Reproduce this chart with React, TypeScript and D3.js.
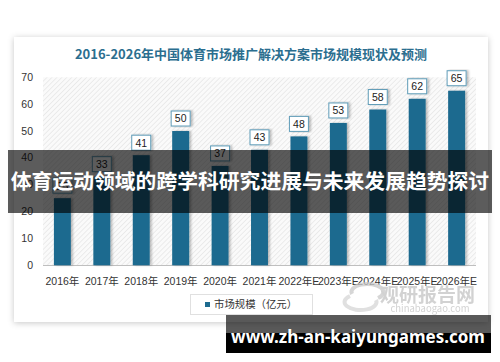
import React from "react";
import * as d3 from "d3";

const categories = ["2016年", "2017年", "2018年", "2019年", "2020年", "2021年", "2022年E", "2023年E", "2024年E", "2025年E", "2026年E"];
const values = [25, 33, 41, 50, 37, 43, 48, 53, 58, 62, 65];
const yTicks = [0, 10, 20, 30, 40, 50, 60, 70];
const title = "2016-2026年中国体育市场推广解决方案市场规模现状及预测";
const seriesName = "市场规模（亿元）";
const bannerText = "体育运动领域的跨学科研究进展与未来发展趋势探讨";
const urlText = "www.zh-an-kaiyungames.com";

const BLUE = "#1d6b8f";
const FONT = "'Noto Sans CJK SC', 'Noto Sans', sans-serif";
const NUMFONT = "'Liberation Sans', 'Noto Sans CJK SC', sans-serif";

export default function App() {
  const x = d3.scaleBand<string>().domain(categories).range([43, 476]).paddingInner(0.57).paddingOuter(0.277);
  const y = d3.scaleLinear().domain([0, 70]).range([265.3, 77.3]);
  const bw = x.bandwidth();
  return (
    <svg width={500} height={362} style={{ position: "absolute", left: 0, top: 0, display: "block", background: "#fff" }} fontFamily={FONT}>
      <defs>
        <filter id="cardShadow" x="-10%" y="-10%" width="120%" height="120%">
          <feDropShadow dx="0" dy="1" stdDeviation="3" floodColor="#000" floodOpacity="0.22" />
        </filter>
        <filter id="barShadow" x="-50%" y="-10%" width="200%" height="120%">
          <feDropShadow dx="2" dy="0" stdDeviation="1.2" floodColor="#000" floodOpacity="0.25" />
        </filter>
        <pattern id="hatch" width="3.5" height="3.5" patternUnits="userSpaceOnUse" patternTransform="rotate(45)">
          <rect width="3.5" height="3.5" fill="#fafafa" />
          <line x1="0" y1="0" x2="0" y2="3.5" stroke="#e4e4e4" strokeWidth="1.3" />
        </pattern>
      </defs>
      <rect x={14} y={37} width={474} height={285} fill="#fff" filter="url(#cardShadow)" />
      <text x={251} y={58.5} textAnchor="middle" fontSize={13} fontWeight="bold" fill="#2b6e8f">{title}</text>
      <rect x={43} y={77.3} width={433} height={188} fill="url(#hatch)" />
      <line x1={43} x2={476} y1={265.5} y2={265.5} stroke="#bfbfbf" strokeWidth={1} />
      {yTicks.map((t) => (
        <text key={t} x={33} y={y(t) + 3.5} textAnchor="end" fontSize={10.5} fill="#333" fontFamily={NUMFONT}>{t}</text>
      ))}
      {categories.map((c, i) => {
        const bx = x(c)!;
        const top = y(values[i]);
        const cx = bx + bw / 2;
        return (
          <g key={c}>
            <rect x={bx} y={top} width={bw} height={y(0) - top} fill={BLUE} filter="url(#barShadow)" />
            <rect x={cx - 9.5} y={top - 20} width={19} height={15} fill="#fff" stroke="#5f9cb8" strokeWidth={1} filter="url(#barShadow)" />
            <text x={cx} y={top - 8.6} textAnchor="middle" fontSize={10.5} fill="#222" fontFamily={NUMFONT}>{values[i]}</text>
            <text x={cx} y={285} textAnchor="middle" fontSize={10.5} fill="#333" fontFamily={NUMFONT}>{c}</text>
          </g>
        );
      })}
      <rect x={190.5} y={294.5} width={122} height={20} fill="#fff" stroke="#e0e0e0" />
      <rect x={205} y={302} width={5} height={5} fill={BLUE} />
      <text x={214} y={308} fontSize={10.4} fill="#333">{seriesName}</text>
      <g opacity={0.75}>
        <path d="M352,294 a16,8 0 1,1 26,4" fill="none" stroke="#c9c9c9" strokeWidth={4} />
        <path d="M376,300 a16,8 0 1,1 -26,-4" fill="none" stroke="#d6d6d6" strokeWidth={4} />
        <text x={380} y={302} fontSize={19} fontWeight="bold" fill="#c4c4c4">观研报告网</text>
        <text x={430} y={312} textAnchor="middle" fontSize={9.5} fill="#c4c4c4">chinabaogao.com</text>
      </g>
      <rect x={8} y={150} width={484} height={63} fill="rgba(0,0,0,0.64)" />
      <text x={250} y={189} textAnchor="middle" fontSize={20.8} fontWeight="bold" fill="#fff">{bannerText}</text>
      <rect x={226} y={315} width={265} height={18} fill="rgba(0,0,0,0.65)" />
      <rect x={226} y={333} width={265} height={20} fill="#000" />
      <text x={358} y={343} textAnchor="middle" fontSize={17} fontWeight="bold" fill="#fff" fontFamily="'Noto Sans', 'DejaVu Sans', sans-serif">{urlText}</text>
    </svg>
  );
}
